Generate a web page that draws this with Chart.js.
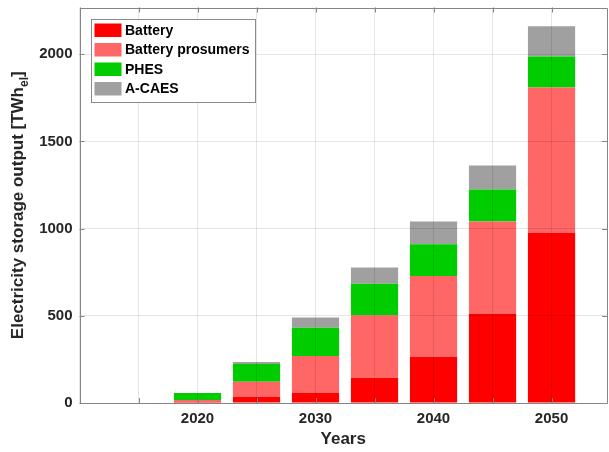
<!DOCTYPE html>
<html lang="en">
<head>
    <meta charset="UTF-8">
    <title>Electricity storage output</title>
    <script src="https://cdn.jsdelivr.net/npm/chart.js"></script>
    <style>
        body {
            margin: 0;
            background: #fff;
        }
        #storageChart {
            display: block;
        }
    </style>
</head>
<body>

<canvas id="storageChart" width="609" height="452"></canvas>

<script>
    // values (TWh_el)
    const years = [2020, 2025, 2030, 2035, 2040, 2045, 2050];
    const battery = [7, 36, 57, 145, 265, 510, 976];
    const batteryProsumers = [10, 86, 212, 358, 463, 531, 833];
    const phes = [40, 101, 163, 181, 183, 184, 178];
    const aCaes = [0, 12, 59, 93, 130, 137, 173];

    const seriesNames = ['Battery', 'Battery prosumers', 'PHES', 'A-CAES'];
    const seriesColors = ['#ff0000', '#ff6666', '#00cc00', '#a0a0a0'];
    const xLabelYears = [2020, 2030, 2040, 2050];
    const yTicks = [0, 500, 1000, 1500, 2000];

    const fontFamily = '"Liberation Sans", Arial, Helvetica, sans-serif';
    const frameColor = '#858585';
    const textColor = '#262626';

    // matlab look: inward ticks, closed box, legend inside the axes, y title with subscript
    const matlabAxes = {
        id: 'matlabAxes',
        afterDraw(chart) {
            const ctx = chart.ctx;
            const area = chart.chartArea;
            const xs = chart.scales.x;
            const ys = chart.scales.y;

            ctx.save();
            ctx.strokeStyle = frameColor;
            ctx.lineWidth = 1;
            ctx.beginPath();
            xs.ticks.forEach(t => {
                const px = Math.round(xs.getPixelForValue(t.value)) + 0.5;
                ctx.moveTo(px, area.bottom);
                ctx.lineTo(px, area.bottom - 5);
                ctx.moveTo(px, area.top);
                ctx.lineTo(px, area.top + 5);
            });
            ys.ticks.forEach(t => {
                const py = Math.round(ys.getPixelForValue(t.value)) + 0.5;
                ctx.moveTo(area.left, py);
                ctx.lineTo(area.left + 5, py);
                ctx.moveTo(area.right, py);
                ctx.lineTo(area.right - 5, py);
            });
            ctx.stroke();
            ctx.beginPath();
            ctx.rect(Math.round(area.left) + 0.5, Math.round(area.top) + 0.5,
                Math.round(area.right - area.left) - 1, Math.round(area.bottom - area.top) - 1);
            ctx.stroke();

            // legend
            const legendFont = 'bold 14px ' + fontFamily;
            ctx.font = legendFont;
            const textW = Math.max(...seriesNames.map(n => ctx.measureText(n).width));
            const lx = Math.round(area.left + 11) + 0.5;
            const ly = Math.round(area.top + 11) + 0.5;
            const rowH = 19.5;
            const lw = Math.round(3 + 27 + 3.5 + textW + 6);
            const lh = Math.round(4 + seriesNames.length * rowH + 1);
            ctx.fillStyle = '#fff';
            ctx.fillRect(lx, ly, lw, lh);
            ctx.strokeStyle = '#8a8a8a';
            ctx.strokeRect(lx, ly, lw, lh);
            ctx.textBaseline = 'middle';
            ctx.textAlign = 'left';
            seriesNames.forEach((name, i) => {
                const rowTop = ly + 4 + i * rowH;
                ctx.fillStyle = seriesColors[i];
                ctx.fillRect(lx + 3, rowTop, 27, 13.5);
                ctx.fillStyle = '#000';
                ctx.fillText(name, lx + 33.5, rowTop + 7.5);
            });

            // y axis title
            const main = 'Electricity storage output [TWh';
            const sub = 'el';
            const close = ']';
            const bigFont = 'bold 17px ' + fontFamily;
            const smallFont = 'bold 12px ' + fontFamily;
            ctx.font = bigFont;
            const wMain = ctx.measureText(main).width;
            const wClose = ctx.measureText(close).width;
            ctx.font = smallFont;
            const wSub = ctx.measureText(sub).width;
            const total = wMain + wSub + wClose;
            const cy = (area.top + area.bottom) / 2;
            ctx.translate(23, cy);
            ctx.rotate(-Math.PI / 2);
            ctx.fillStyle = textColor;
            ctx.textBaseline = 'alphabetic';
            const x0 = -total / 2;
            ctx.font = bigFont;
            ctx.fillText(main, x0, 0);
            ctx.font = smallFont;
            ctx.fillText(sub, x0 + wMain, 5);
            ctx.font = bigFont;
            ctx.fillText(close, x0 + wMain + wSub, 0);
            ctx.restore();
        }
    };

    const dataSets = [battery, batteryProsumers, phes, aCaes].map((values, i) => ({
        label: seriesNames[i],
        data: values,
        backgroundColor: seriesColors[i],
        borderWidth: 0,
        barPercentage: 1,
        categoryPercentage: 0.8
    }));

    const ctx = document.getElementById('storageChart').getContext('2d');

    new Chart(ctx, {
        type: 'bar',
        data: {
            labels: years,
            datasets: dataSets
        },
        options: {
            responsive: false,
            animation: false,
            layout: {
                padding: { top: 7.5, right: 2, left: 0, bottom: 0 }
            },
            plugins: {
                tooltip: { enabled: false },
                legend: { display: false }
            },
            scales: {
                x: {
                    type: 'linear',
                    stacked: true,
                    offset: false,
                    min: 2010,
                    max: 2054.7,
                    afterFit: scale => {
                        scale.height = 49;
                        scale.paddingLeft = 0;
                        scale.paddingRight = 0;
                    },
                    // the box is drawn by the plugin
                    border: { display: false },
                    grid: {
                        offset: false,
                        drawTicks: false,
                        color: 'rgba(0,0,0,0.1)',
                        z: 1
                    },
                    ticks: {
                        stepSize: 5,
                        includeBounds: false,
                        autoSkip: false,
                        maxRotation: 0,
                        padding: 7,
                        color: textColor,
                        font: { family: fontFamily, size: 15, weight: 'bold' },
                        callback: v => xLabelYears.includes(v) ? String(v) : ''
                    },
                    title: {
                        display: true,
                        text: 'Years',
                        color: textColor,
                        padding: { top: 0, bottom: 2 },
                        font: { family: fontFamily, size: 17, weight: 'bold' }
                    }
                },
                y: {
                    stacked: true,
                    min: 0,
                    max: 2268,
                    afterFit: scale => {
                        scale.width = 79.5;
                        scale.paddingTop = 0;
                        scale.paddingBottom = 0;
                    },
                    afterBuildTicks: scale => {
                        scale.ticks = yTicks.map(v => ({ value: v }));
                    },
                    border: { display: false },
                    grid: {
                        drawTicks: false,
                        color: 'rgba(0,0,0,0.1)',
                        z: 1
                    },
                    ticks: {
                        padding: 7,
                        color: textColor,
                        font: { family: fontFamily, size: 15, weight: 'bold' },
                        callback: v => String(v)
                    }
                }
            }
        },
        plugins: [matlabAxes]
    });
</script>

</body>
</html>
